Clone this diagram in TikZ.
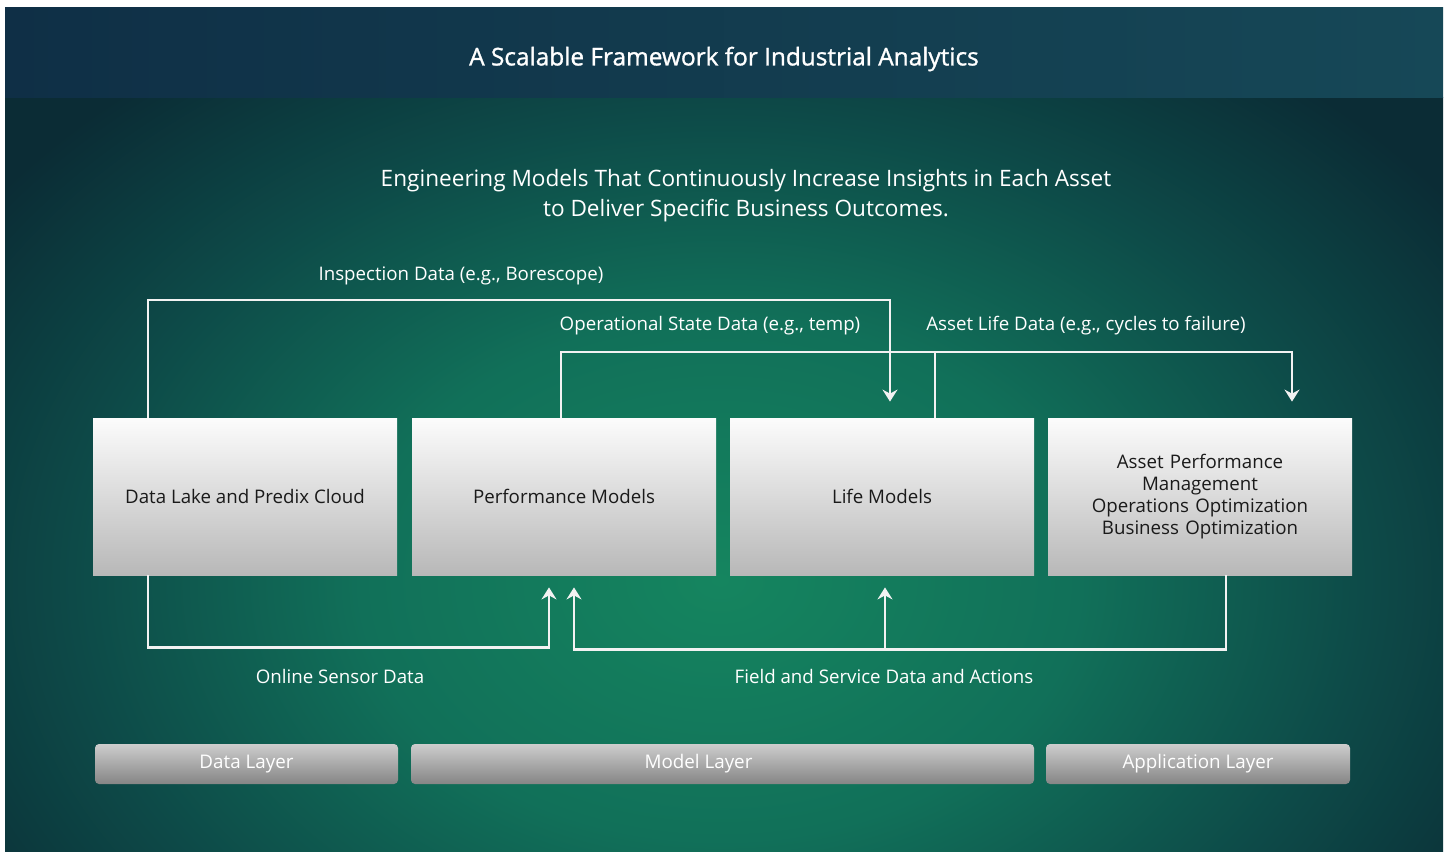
\documentclass[tikz,border=0pt]{standalone}
\usepackage{fontspec}
\setmainfont{Open Sans}
\newfontfamily\titlefont[FakeBold=1.2]{Open Sans}
\usetikzlibrary{arrows.meta,calc}
\definecolor{hdrL}{HTML}{0F2F46}
\definecolor{hdrR}{HTML}{164857}
\definecolor{bgin}{HTML}{15855F}
\definecolor{bgm1}{HTML}{117059}
\definecolor{bgm2}{HTML}{0D4A48}
\definecolor{bgout}{HTML}{0B2C35}
\definecolor{wireC}{HTML}{F2F2F2}
\definecolor{boxTop}{HTML}{FCFCFC}
\definecolor{boxBot}{HTML}{B8B8B8}
\definecolor{layTop}{HTML}{CDCDCD}
\definecolor{layMid}{HTML}{9A9A9A}
\definecolor{layBot}{HTML}{858585}
\definecolor{boxText}{HTML}{1A1A1A}
\pgfdeclareradialshading{bgshade}{\pgfpoint{0bp}{0bp}}{color(0bp)=(bgin); color(10bp)=(bgm1); color(18bp)=(bgm2); color(25bp)=(bgout); color(50bp)=(bgout)}
\tikzset{
  blockbox/.style={rectangle, inner sep=2pt, minimum width=152pt, minimum height=78.5pt,
    top color=boxTop, bottom color=boxBot, text=boxText, font=\fontsize{9.35}{11}\selectfont, align=center},
  layerbar/.style={rectangle, rounded corners=2pt, inner sep=0pt, minimum height=20pt,
    top color=layTop, middle color=layMid, bottom color=layBot, text=white, font=\fontsize{9.4}{11}\selectfont},
  wire/.style={draw=wireC, line width=1.1pt},
  arr/.style={-{Stealth[length=6pt,width=7.5pt,inset=2pt]}},
  lbl/.style={text=white, font=\fontsize{9.35}{11}\selectfont, inner sep=0pt}
}
\begin{document}
\begin{tikzpicture}[x=0.5pt,y=-0.5pt]
\useasboundingbox (0,0) rectangle (1447,852);
\fill[white] (0,0) rectangle (1447,852);
% body background
\begin{scope}
  \clip (5,97) rectangle (1443,852);
  \shade[shading=bgshade] (-180,-70) rectangle (1620,1230);
\end{scope}
% header
\shade[left color=hdrL, right color=hdrR] (5,7) rectangle (1443,97);
\node[text=white, font=\titlefont\fontsize{12.2}{14}\selectfont] (title) at (724,59) {A Scalable Framework for Industrial Analytics};
\node[text=white, font=\fontsize{11.3}{15}\selectfont, align=center] (sub) at (746,196)
  {Engineering Models That Continuously Increase Insights in Each Asset\\to Deliver Specific Business Outcomes.};
% boxes
\node[blockbox] (b1) at (245,496.5) {Data Lake and Predix Cloud};
\node[blockbox] (b2) at (564,496.5) {Performance Models};
\node[blockbox] (b3) at (882,496.5) {Life Models};
\node[blockbox, text width=135pt] (b4) at (1200,496.5) {Asset Performance\\Management\\Operations Optimization\\Business Optimization};
% top connectors
\draw[wire,arr,shorten >=8pt] ($(b1.north)+(-97,0)$) -- ++(0,-118) -| ($(b3.north)+(8,0)$);
\draw[wire,arr,shorten >=8pt] ($(b2.north)+(-3,0)$) -- ++(0,-66) -| ($(b4.north)+(92,0)$);
\draw[wire] ($(b3.north)+(53,0)$) -- ++(0,-66);
% bottom connectors
\draw[wire,arr,shorten >=6pt] ($(b1.south)+(-97,0)$) -- ++(0,72) -| ($(b2.south)+(-15,0)$);
\draw[wire,arr,shorten >=6pt] ($(b4.south)+(26,0)$) -- ++(0,74) -| ($(b2.south)+(10,0)$);
\draw[wire,arr,shorten >=6pt] ($(b3.south)+(3,74)$) -- ($(b3.south)+(3,0)$);
% labels
\node[lbl] (lins) at (461,276) {Inspection Data (e.g., Borescope)};
\node[lbl] (lop) at (710,326) {Operational State Data (e.g., temp)};
\node[lbl] (lal) at (1086,326) {Asset Life Data (e.g., cycles to failure)};
\node[lbl] (lon) at (340,676) {Online Sensor Data};
\node[lbl] (lfs) at (884,676) {Field and Service Data and Actions};
% layer bars
\node[layerbar, minimum width=151.5pt] (l1) at (246.5,764) {Data Layer};
\node[layerbar, minimum width=311.5pt] (l2) at (722.5,764) {Model Layer\rule{24pt}{0pt}};
\node[layerbar, minimum width=152pt] (l3) at (1198,764) {Application Layer};
\end{tikzpicture}
\end{document}
